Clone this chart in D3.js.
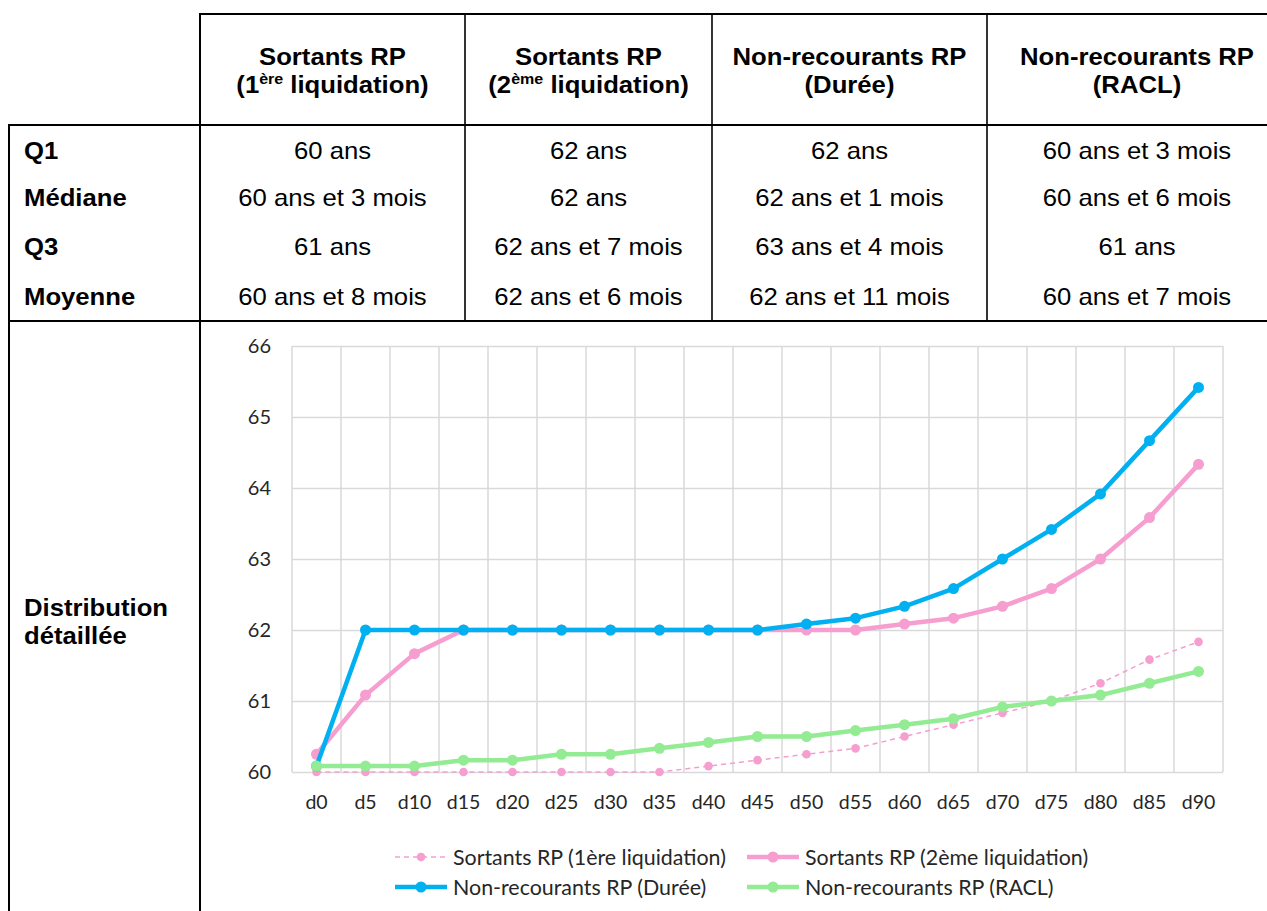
<!DOCTYPE html>
<html>
<head>
<meta charset="utf-8">
<script src="https://cdn.jsdelivr.net/npm/d3@7"></script>
<style>
  html, body { margin: 0; padding: 0; background: #ffffff; }
  svg { display: block; }
  .cell { font-family: "Liberation Sans", Arial, sans-serif; fill: #000; }
  .chart-text { font-family: Lato, "Open Sans", sans-serif; fill: #262626; }
</style>
</head>
<body>
<svg id="root" width="1267" height="911"></svg>
<script>
// ---- Table content ----
const columnTitles = ["Sortants RP", "Sortants RP", "Non-recourants RP", "Non-recourants RP"];
const columnSubtitles = [
  { pre: "(1", sup: "ère", post: " liquidation)" },
  { pre: "(2", sup: "ème", post: " liquidation)" },
  { pre: "(Durée)", sup: "", post: "" },
  { pre: "(RACL)", sup: "", post: "" }
];
const rowLabels = ["Q1", "Médiane", "Q3", "Moyenne"];
const col1Values = ["60 ans", "60 ans et 3 mois", "61 ans", "60 ans et 8 mois"];
const col2Values = ["62 ans", "62 ans", "62 ans et 7 mois", "62 ans et 6 mois"];
const col3Values = ["62 ans", "62 ans et 1 mois", "63 ans et 4 mois", "62 ans et 11 mois"];
const col4Values = ["60 ans et 3 mois", "60 ans et 6 mois", "61 ans", "60 ans et 7 mois"];
const chartRowLabel = ["Distribution", "détaillée"];

// ---- Chart data (age at each percentile) ----
const categories = ["d0","d5","d10","d15","d20","d25","d30","d35","d40","d45",
                    "d50","d55","d60","d65","d70","d75","d80","d85","d90"];
const sortants1 = [60, 60, 60, 60, 60, 60, 60, 60, 60.083, 60.167,
                   60.25, 60.333, 60.5, 60.667, 60.833, 61, 61.25, 61.583, 61.833];
const sortants2 = [60.25, 61.083, 61.667, 62, 62, 62, 62, 62, 62, 62,
                   62, 62, 62.083, 62.167, 62.333, 62.583, 63, 63.583, 64.333];
const duree = [60.083, 62, 62, 62, 62, 62, 62, 62, 62, 62,
               62.083, 62.167, 62.333, 62.583, 63, 63.417, 63.917, 64.667, 65.417];
const racl = [60.083, 60.083, 60.083, 60.167, 60.167, 60.25, 60.25, 60.333, 60.417, 60.5,
              60.5, 60.583, 60.667, 60.75, 60.917, 61, 61.083, 61.25, 61.417];
const yTicks = [60, 61, 62, 63, 64, 65, 66];
const seriesNames = ["Sortants RP (1ère liquidation)", "Sortants RP (2ème liquidation)",
                     "Non-recourants RP (Durée)", "Non-recourants RP (RACL)"];

const svg = d3.select("#root");

// ---- Table grid ----
const colEdges = [200, 465, 712, 987, 1290];
const gridG = svg.append("g").attr("stroke", "#000").attr("fill", "none");
const seg = (x1, y1, x2, y2, w) => gridG.append("line")
  .attr("x1", x1).attr("y1", y1).attr("x2", x2).attr("y2", y2).attr("stroke-width", w);
seg(199, 14, 1267, 14, 2);          // header top
seg(8, 125, 1267, 125, 2);          // header bottom
seg(8, 321, 1267, 321, 2);          // statistics bottom
seg(9, 124, 9, 911, 2);             // left border
seg(200, 13, 200, 911, 2);          // label column
[465, 712, 987].forEach(x => seg(x, 14, x, 321, 1.6));

const colCenters = d3.range(4).map(i => (colEdges[i] + colEdges[i + 1]) / 2);
colCenters[3] = 1137;

const stretch = 1.07;
function cellText(g, x, y, anchor, bold, size) {
  return g.append("text").attr("class", "cell")
    .attr("transform", `translate(${x},${y}) scale(${stretch},1)`)
    .attr("text-anchor", anchor)
    .attr("font-weight", bold ? "bold" : "normal")
    .attr("font-size", size);
}

const tableG = svg.append("g");
const fs = 24;
columnTitles.forEach((t, i) => {
  cellText(tableG, colCenters[i], 65, "middle", true, fs).text(t);
  const s = columnSubtitles[i];
  const line2 = cellText(tableG, colCenters[i], 93, "middle", true, fs);
  line2.append("tspan").text(s.pre);
  if (s.sup) {
    line2.append("tspan").attr("font-size", 15).attr("dy", -9).text(s.sup);
    line2.append("tspan").attr("dy", 9).text(s.post);
  }
});

const rowY = [159, 206, 255, 305];
rowLabels.forEach((r, j) => cellText(tableG, 24, rowY[j], "start", true, fs).text(r));
[col1Values, col2Values, col3Values, col4Values].forEach((vals, i) => {
  vals.forEach((v, j) => cellText(tableG, colCenters[i], rowY[j], "middle", false, fs).text(v));
});
chartRowLabel.forEach((t, k) => cellText(tableG, 24, 616 + k * 28, "start", true, fs).text(t));

// ---- Chart ----
const x = d3.scaleBand().domain(categories).range([292, 1223]).padding(0);
const y = d3.scaleLinear().domain([60, 66]).range([772, 346]);
const cx = d => x(d) + x.bandwidth() / 2;
const gridColor = "#d9d9d9";

const chartG = svg.append("g");

// horizontal gridlines + y labels
const yAxis = chartG.append("g").attr("transform", "translate(292,0)")
  .call(d3.axisLeft(y).tickValues(yTicks).tickSize(-931).tickPadding(21).tickFormat(d3.format("d")));
yAxis.select(".domain").remove();
yAxis.selectAll(".tick line").attr("stroke", gridColor).attr("stroke-width", 1.5);
yAxis.selectAll(".tick text").attr("class", "chart-text").attr("font-size", 20)
  .attr("fill", "#262626");

// vertical gridlines on category boundaries
const vEdges = categories.map(c => x(c)).concat([x.range()[1]]);
chartG.append("g").selectAll("line").data(vEdges).join("line")
  .attr("x1", d => d).attr("x2", d => d).attr("y1", y(66)).attr("y2", y(60))
  .attr("stroke", gridColor).attr("stroke-width", 1.5);

// x labels
const xAxis = chartG.append("g").attr("transform", `translate(0,${y(60)})`)
  .call(d3.axisBottom(x).tickSize(0).tickPadding(31));
xAxis.select(".domain").remove();
xAxis.selectAll(".tick text").attr("class", "chart-text").attr("font-size", 19.5)
  .attr("fill", "#262626").attr("dy", "0.32em");

const pink = "#f59ecf", blue = "#00b0f0", green = "#93eb93";
const series = [
  { name: seriesNames[0], values: sortants1, color: pink, width: 1.5, dash: "5,4", r: 4.3 },
  { name: seriesNames[1], values: sortants2, color: pink, width: 4.5, dash: null, r: 5.5 },
  { name: seriesNames[2], values: duree, color: blue, width: 4.5, dash: null, r: 5.5 },
  { name: seriesNames[3], values: racl, color: green, width: 4.5, dash: null, r: 5.5 }
];

const line = d3.line().x((d, i) => cx(categories[i])).y(d => y(d));
series.forEach(s => {
  const g = chartG.append("g");
  g.append("path").attr("d", line(s.values)).attr("fill", "none")
    .attr("stroke", s.color).attr("stroke-width", s.width)
    .attr("stroke-dasharray", s.dash).attr("stroke-linejoin", "round");
  g.selectAll("circle").data(s.values).join("circle")
    .attr("cx", (d, i) => cx(categories[i])).attr("cy", d => y(d))
    .attr("r", s.r).attr("fill", s.color);
});

// legend
const legendPos = [[395, 857], [747, 857], [395, 887], [747, 887]];
series.forEach((s, i) => {
  const [lx, ly] = legendPos[i];
  const g = chartG.append("g").attr("transform", `translate(${lx},${ly})`);
  g.append("line").attr("x1", 0).attr("x2", 52).attr("y1", 0).attr("y2", 0)
    .attr("stroke", s.color).attr("stroke-width", s.width).attr("stroke-dasharray", s.dash);
  g.append("circle").attr("cx", 26).attr("cy", 0).attr("r", s.r).attr("fill", s.color);
  g.append("text").attr("class", "chart-text").attr("x", 58).attr("y", 0)
    .attr("dy", "0.35em").attr("font-size", 21.4).attr("fill", "#262626").text(s.name);
});
</script>
</body>
</html>
